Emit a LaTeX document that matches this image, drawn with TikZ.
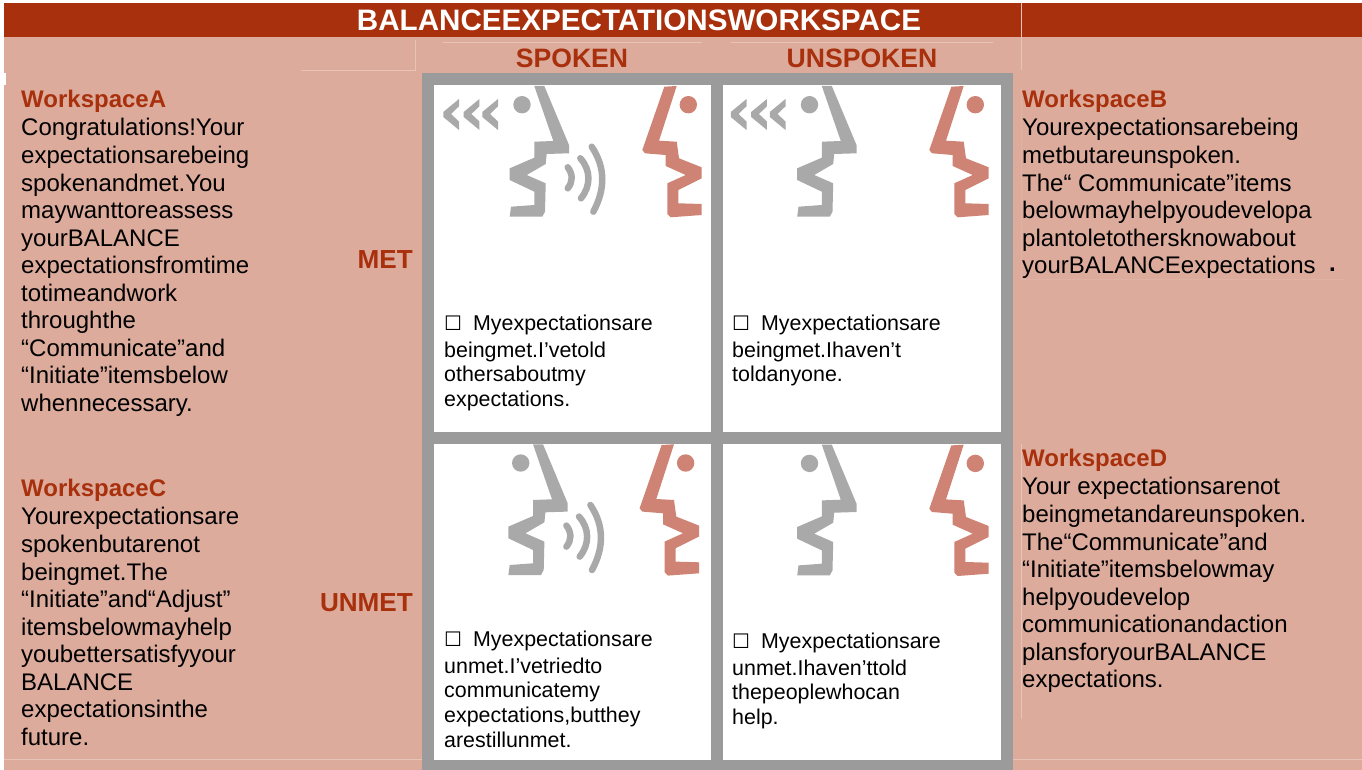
\documentclass[tikz,border=0pt]{standalone}
\usepackage{fontspec}
\setmainfont{Liberation Sans}
\newfontfamily\symbolfont{DejaVu Sans}
\usetikzlibrary{positioning}
\definecolor{titlered}{HTML}{A8300C}
\definecolor{panelpink}{HTML}{DCAB9C}
\definecolor{faintline}{HTML}{E8C4B8}
\definecolor{framegray}{HTML}{9B9B9B}
\definecolor{facegray}{HTML}{A9A9A9}
\definecolor{facered}{HTML}{CF8374}
\newcommand{\tickbox}{{\symbolfont\fontsize{20}{20}\selectfont ☐}\hspace{11pt}}

\begin{document}
\begin{tikzpicture}[
    x=1pt, y=-1pt,
    cellbox/.style={fill=white},
    headword/.style={inner sep=0pt, font=\bfseries\fontsize{26.6}{28}\selectfont, text=titlered},
    rowword/.style={inner sep=0pt, anchor=east, font=\bfseries\fontsize{26.1}{28}\selectfont, text=titlered},
    wshead/.style={inner sep=0pt, anchor=west, font=\bfseries\fontsize{24}{26}\selectfont, text=titlered},
    wsbody/.style={inner sep=0pt, anchor=north west, align=left, font=\fontsize{24}{27.55}\selectfont},
    cellbody/.style={inner sep=0pt, anchor=north west, align=left, font=\fontsize{21.4}{24.6}\selectfont},
    speaker/.pic={
        \fill[facegray] (109.3,16) -- (119.3,16) -- (144,75) -- (144,83.3) -- (121.7,84) -- (120.7,94) -- (101.7,105) -- (120.7,113.3) -- (120,141.7) -- (117.3,146.7) -- (84.7,146.7) -- (86,136.7) -- (109.3,135) -- (109.3,121.7) -- (84.7,110) -- (84.7,98.3) -- (109.3,87.7) -- (109.3,71.7) -- (128.3,71) -- cycle;
        \fill[facegray] (97,34.7) circle (8.7);
    },
    listener/.pic={
        \fill[facered] (239.3,16.7) -- (251.7,16) -- (234,70.7) -- (251.7,71.7) -- (254,88.3) -- (276.7,97.3) -- (276.7,108.3) -- (253.3,120) -- (253.3,133.3) -- (276.7,134) -- (276.7,145) -- (245.7,147.3) -- (242.3,144) -- (242.3,113.3) -- (260.7,105) -- (240.7,96) -- (240.7,85) -- (220,83.3) -- (217.3,80) -- cycle;
        \fill[facered] (263.3,34.7) circle (8.7);
    },
    soundwaves/.pic={
        \draw[facegray, line width=6.5pt, line cap=round] (142.7,97.3) .. controls (148,104) and (148,112) .. (142.7,118.3);
        \draw[facegray, line width=6.5pt, line cap=round] (155.3,88.3) .. controls (166,100) and (166,116) .. (156,128.3);
        \draw[facegray, line width=6.5pt, line cap=round] (166.7,76.7) .. controls (181,98) and (180,120) .. (168.3,141.7);
    },
    chevrons/.pic={
        \foreach \tipx in {18.3,38.7,57.3} {
            \fill[facegray, shift={(\tipx,44)}] (0,-2) -- (15.7,-15) -- (15.7,-7.7) -- (7.7,0) -- (15.7,7.5) -- (15.7,16) -- (0,3) -- cycle;
        }
    },
]
    \useasboundingbox (0,0) rectangle (1362,770);

    % backdrop
    \fill[panelpink] (4,37) rectangle (1362,770);
    \fill[titlered] (4,3) rectangle (1362,37);
    \fill[white] (0,73) rectangle (6,85);
    \fill[framegray] (422,73) rectangle (1013,770);

    % faint table rules
    \draw[faintline] (301,70) -- (415,70) -- (415,40);
    \draw[faintline] (1021,3) -- (1021,70);
    \draw[faintline] (1021,444) -- (1021,719);
    \draw[faintline, opacity=.3] (1021,88) -- (1021,279) -- (1345,279);
    \draw[faintline] (4,759.5) -- (422,759.5);
    \draw[faintline] (1013,759.5) -- (1362,759.5);
    \draw[faintline] (443,42) -- (702,42);
    \draw[faintline] (731,42) -- (993,42);

    \node[inner sep=0pt, font=\bfseries\fontsize{29.6}{30}\selectfont, text=white] (title) at (639,20) {BALANCEEXPECTATIONSWORKSPACE};
    \node[headword] (spoken) at (572,58) {SPOKEN};
    \node[headword] (unspoken) at (862,58) {UNSPOKEN};
    \node[rowword] (met) at (413,260) {MET};
    \node[rowword] (unmet) at (413,603) {UNMET};

    \fill[cellbox] (434,85) rectangle (711,432);
    \fill[cellbox] (723,85) rectangle (1001,432);
    \fill[cellbox] (434,443.5) rectangle (711,760);
    \fill[cellbox] (723,443.5) rectangle (1001,760);

    \pic at (425,70) {speaker};
    \pic at (425,70) {listener};
    \pic at (425,70) {soundwaves};
    \pic at (425,70) {chevrons};
    \pic at (712.5,70) {speaker};
    \pic at (712,70) {listener};
    \pic at (712.5,70) {chevrons};
    \pic at (423.7,428.3) {speaker};
    \pic at (422.3,428.3) {listener};
    \pic at (423.7,428.3) {soundwaves};
    \pic at (712.5,428.7) {speaker};
    \pic at (712,428.7) {listener};

    % left column
    \node[wshead] (headA) at (21,101) {WorkspaceA};
    \node[wsbody, below=6pt of headA.south west, anchor=north west] (bodyA) {Congratulations!Your\\expectationsarebeing\\spokenandmet.You\\maywanttoreassess\\yourBALANCE\\expectationsfromtime\\totimeandwork\\throughthe\\“Communicate”and\\“Initiate”itemsbelow\\whennecessary.};
    \node[wshead] (headC) at (21,490) {WorkspaceC};
    \node[wsbody, below=6pt of headC.south west, anchor=north west] (bodyC) {Yourexpectationsare\\spokenbutarenot\\beingmet.The\\“Initiate”and“Adjust”\\itemsbelowmayhelp\\youbettersatisfyyour\\BALANCE\\expectationsinthe\\future.};

    % right column
    \node[wshead] (headB) at (1022,101) {WorkspaceB};
    \node[wsbody, below=6pt of headB.south west, anchor=north west] (bodyB) {Yourexpectationsarebeing\\metbutareunspoken.\\The“ Communicate”items\\belowmayhelpyoudevelopa\\plantoletothersknowabout\\yourBALANCEexpectations};
    \node[inner sep=0pt, font=\bfseries\fontsize{24}{26}\selectfont] (stopB) at (1332.5,270) {.};
    \node[wshead] (headD) at (1022,460) {WorkspaceD};
    \node[wsbody, below=6pt of headD.south west, anchor=north west] (bodyD) {Your expectationsarenot\\beingmetandareunspoken.\\The“Communicate”and\\“Initiate”itemsbelowmay\\helpyoudevelop\\communicationandaction\\plansforyourBALANCE\\expectations.};

    % cell texts
    \node[cellbody] (textA) at (444,315) {\tickbox Myexpectationsare\\[2pt]beingmet.I’vetold\\othersaboutmy\\expectations.};
    \node[cellbody] (textB) at (732,315) {\tickbox Myexpectationsare\\[2pt]beingmet.Ihaven’t\\toldanyone.};
    \node[cellbody] (textC) at (444,631) {\tickbox Myexpectationsare\\[2pt]unmet.I’vetriedto\\communicatemy\\expectations,butthey\\arestillunmet.};
    \node[cellbody] (textD) at (732,633) {\tickbox Myexpectationsare\\[2pt]unmet.Ihaven’ttold\\thepeoplewhocan\\help.};
\end{tikzpicture}
\end{document}
